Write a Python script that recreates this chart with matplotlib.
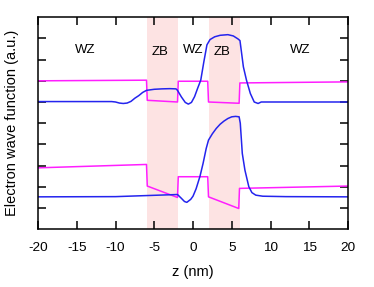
import matplotlib
matplotlib.use("Agg")
import matplotlib.pyplot as plt

################################################################################
# Data (z in nm, y in arbitrary units).         #
################################################################################

# Upper panel: potential profile and wave function.
z_pot_up = [-20, -6.0, -5.9, -2.0, -1.9, 1.9, 2.0, 5.95, 6.05, 20]
v_pot_up = [7.00, 7.03, 6.08, 6.00, 6.98, 6.98, 6.00, 5.94, 6.90, 6.95]

z_wf_up = [-20, -10.5, -10, -9.5, -9, -8.5, -8, -7.5, -7, -6.5, -6, -5, -4, -3,
           -2.2, -2, -1.5, -1, -0.6, -0.2, 0.2, 0.6, 1.0, 1.4, 1.8, 2.2, 2.8,
           3.5, 4.5, 5.2, 5.8, 6.06, 6.5, 6.9, 7.4, 7.9, 8.4, 8.8, 10, 20]
psi_wf_up = [6.02, 6.02, 6.00, 5.95, 5.93, 5.95, 6.03, 6.18, 6.30, 6.45, 6.55,
             6.60, 6.62, 6.63, 6.62, 6.55, 6.24, 5.98, 5.90, 5.98, 6.25, 6.65,
             7.03, 7.90, 8.70, 8.95, 9.08, 9.15, 9.18, 9.12, 8.98, 8.90, 7.66,
             7.03, 6.40, 6.00, 5.93, 6.00, 6.00, 6.00]

# Lower panel: potential profile and wave function.
z_pot_lo = [-20, -6.0, -5.9, -2.0, -1.9, 1.9, 2.0, 5.9, 6.0, 20]
v_pot_lo = [2.89, 3.05, 2.03, 1.49, 2.47, 2.47, 1.52, 0.97, 1.92, 2.03]

z_wf_lo = [-20, -10, -6, -2, -1.5, -1.1, -0.8, -0.3, 0, 0.4, 0.9, 1.3, 1.7,
           2.0, 2.5, 3, 3.5, 4, 4.5, 5, 5.5, 5.95, 6.1, 6.36, 6.7, 7.2, 7.6,
           8.1, 9, 12, 20]
psi_wf_lo = [1.52, 1.53, 1.58, 1.63, 1.45, 1.30, 1.26, 1.40, 1.55, 1.90, 2.49,
             3.10, 3.80, 4.20, 4.50, 4.75, 4.95, 5.10, 5.22, 5.30, 5.32, 5.30,
             5.00, 3.57, 2.78, 2.00, 1.72, 1.60, 1.55, 1.53, 1.52]

# Zinc-blende slabs and region labels.
zb_slabs = [(-6, -2), (2, 6)]
region_names = ['WZ', 'ZB', 'WZ', 'ZB', 'WZ']
region_z = [-13.85, -4.2, 0.0, 3.75, 13.8]
region_y = [8.44, 8.36, 8.44, 8.36, 8.44]

################################################################################
# Plot.                                                                        #
################################################################################

plt.rcParams['font.family'] = ['Liberation Sans', 'DejaVu Sans']
plt.rcParams['axes.unicode_minus'] = False

fig = plt.figure(figsize=(3.74, 2.87), dpi=100)
ax = fig.add_axes([0.1016, 0.202, 0.8289, 0.7377])

for z0, z1 in zb_slabs:
    ax.axvspan(z0, z1, color='#fde3e3', lw=0, zorder=0)

ax.plot(z_pot_up, v_pot_up, '-', color='#ff1eff', lw=1.1)
ax.plot(z_pot_lo, v_pot_lo, '-', color='#ff1eff', lw=1.1)
ax.plot(z_wf_up, psi_wf_up, '-', color='#2424ee', lw=1.1)
ax.plot(z_wf_lo, psi_wf_lo, '-', color='#2424ee', lw=1.1)

for name, zz, yy in zip(region_names, region_z, region_y):
    ax.text(zz, yy, name, ha='center', va='center', fontsize=9.5)

# Add details.
ax.set_xlim(-20, 20)
ax.set_ylim(0, 10)
ax.set_xticks(range(-20, 21, 5))
ax.set_yticks(range(1, 10))
ax.set_yticklabels([])
ax.tick_params(axis='both', direction='in', length=6, width=1.1,
               top=True, right=True, labelsize=9.7, pad=9)
for sp in ax.spines.values():
    sp.set_linewidth(1.1)
ax.set_xlabel('z (nm)', fontsize=10.5, labelpad=8)
ax.set_ylabel('Electron wave function (a.u.)', fontsize=10.5, labelpad=5)

fig.savefig("out.png", dpi=100)
plt.close()
